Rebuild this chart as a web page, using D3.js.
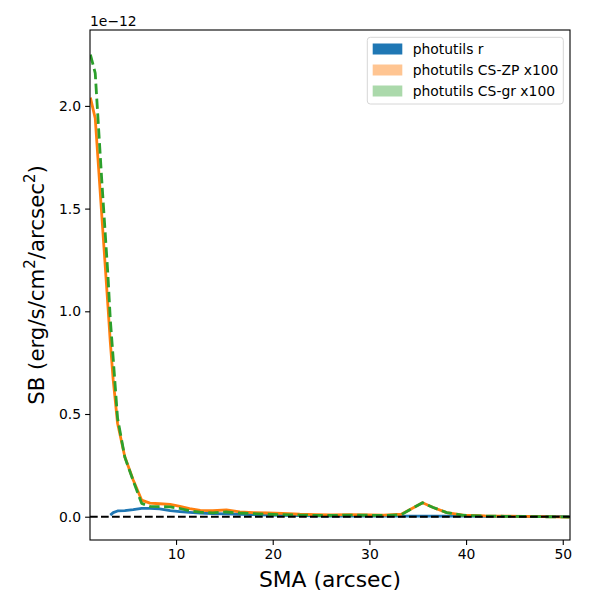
<!DOCTYPE html>
<html>
<head>
<meta charset="utf-8">
<script src="https://cdn.jsdelivr.net/npm/d3@7"></script>
<style>
  body { margin: 0; background: #fff; }
  text { font-family: "DejaVu Sans", sans-serif; }
</style>
</head>
<body>
<div id="chart"></div>
<script>
// surface brightness profiles, values in units of 1e-12 erg/s/cm2/arcsec2
var sma = [1.14, 1.64, 2.3, 2.95, 3.2, 3.5, 3.95, 4.7, 5.57, 6.44, 7.3, 8.3, 9.4, 10.4,
           11.4, 12.5, 13.8, 15.2, 16.6, 18, 19.5, 21, 22.8, 24.5, 26, 28, 30, 31.5,
           33.3, 34.4, 35.5, 36.6, 38, 39.7, 42, 44, 46, 48, 50.7];
var sbR = [null, null, null, null, 0.008, 0.02, 0.028, 0.030, 0.035, 0.041, 0.041, 0.038, 0.030, 0.025,
           0.021, 0.017, 0.015, 0.014, 0.012, 0.010, 0.008, 0.006, 0.005, 0.004, 0.003, 0.003, 0.003, 0.003,
           0.003, 0.003, 0.003, 0.003, 0.003, 0.003, 0.002, 0.002, 0.001, 0.001, 0.0];
var sbZP = [2.04, 1.94, 1.48, 1.03, 0.85, 0.666, 0.455, 0.292, 0.179, 0.081, 0.066, 0.063, 0.060, 0.050,
            0.039, 0.031, 0.029, 0.033, 0.024, 0.020, 0.018, 0.016, 0.012, 0.010, 0.009, 0.010, 0.009, 0.008,
            0.012, 0.040, 0.068, 0.045, 0.020, 0.008, 0.004, 0.003, 0.002, 0.0, -0.002];
var sbGR = [2.25, 2.16, 1.65, 1.18, 0.96, 0.77, 0.48, 0.29, 0.175, 0.065, 0.050, 0.049, 0.048, 0.040,
            0.029, 0.022, 0.019, 0.023, 0.018, 0.015, 0.012, 0.010, 0.008, 0.006, 0.006, 0.008, 0.007, 0.006,
            0.010, 0.040, 0.068, 0.045, 0.020, 0.007, 0.003, 0.002, 0.001, 0.0, -0.002];
var xTicks = [10, 20, 30, 40, 50];
var yTicks = [0.0, 0.5, 1.0, 1.5, 2.0];
var legendLabels = ["photutils r", "photutils CS-ZP x100", "photutils CS-gr x100"];

var W = 600, H = 600;
var margin = {top: 30, right: 30, bottom: 60, left: 90};

var svg = d3.select("#chart").append("svg")
    .attr("width", W)
    .attr("height", H);

var x = d3.scaleLinear()
    .domain([1.1, 50.75])
    .range([margin.left, W - margin.right]);
var y = d3.scaleLinear()
    .domain([-0.1134, 2.3695])
    .range([H - margin.bottom, margin.top]);

// clip to axes area
svg.append("clipPath").attr("id", "clip")
  .append("rect")
    .attr("x", margin.left).attr("y", margin.top)
    .attr("width", W - margin.left - margin.right)
    .attr("height", H - margin.top - margin.bottom);

var plot = svg.append("g").attr("clip-path", "url(#clip)");

function drawLine(vals, color, dash) {
    var line = d3.line()
        .defined(function(d) { return d[1] != null; })
        .x(function(d) { return x(d[0]); })
        .y(function(d) { return y(d[1]); });
    plot.append("path")
        .datum(sma.map(function(s, i) { return [s, vals[i]]; }))
        .attr("d", line)
        .attr("fill", "none")
        .attr("stroke", color)
        .attr("stroke-width", 2.8)
        .attr("stroke-linejoin", "round")
        .attr("stroke-dasharray", dash);
}

drawLine(sbR, "#1f77b4", null);
drawLine(sbZP, "#ff7f0e", null);
drawLine(sbGR, "#2ca02c", "10.4,4.5");

// zero line
plot.append("line")
    .attr("x1", margin.left).attr("x2", W - margin.right)
    .attr("y1", y(0)).attr("y2", y(0))
    .attr("stroke", "#000")
    .attr("stroke-width", 2)
    .attr("stroke-dasharray", "7.7,3.3");

// axes
svg.append("g")
    .attr("transform", "translate(0," + (H - margin.bottom) + ")")
    .call(d3.axisBottom(x).tickValues(xTicks).tickSize(4.9).tickPadding(4).tickFormat(d3.format("d")))
    .call(function(g) { g.select(".domain").remove(); })
    .selectAll("text").attr("font-size", "13.9px").attr("fill", "#000")
    .attr("font-family", "DejaVu Sans");

svg.append("g")
    .attr("transform", "translate(" + margin.left + ",0)")
    .call(d3.axisLeft(y).tickValues(yTicks).tickSize(4.9).tickPadding(4).tickFormat(d3.format(".1f")))
    .call(function(g) { g.select(".domain").remove(); })
    .selectAll("text").attr("font-size", "13.9px").attr("fill", "#000")
    .attr("font-family", "DejaVu Sans");

svg.selectAll(".tick line").attr("stroke", "#000").attr("stroke-width", 1.1);

// frame
svg.append("rect")
    .attr("x", margin.left).attr("y", margin.top)
    .attr("width", W - margin.left - margin.right)
    .attr("height", H - margin.top - margin.bottom)
    .attr("fill", "none")
    .attr("stroke", "#000")
    .attr("stroke-width", 1.1);

// offset text
svg.append("text")
    .attr("x", margin.left).attr("y", 26)
    .attr("font-size", "13.9px")
    .text("1e\u221212");

// axis labels
svg.append("text")
    .attr("x", (margin.left + W - margin.right) / 2)
    .attr("y", 587)
    .attr("text-anchor", "middle")
    .attr("font-size", "21.8px")
    .text("SMA (arcsec)");

var yl = svg.append("text")
    .attr("transform", "translate(43.5," + ((margin.top + H - margin.bottom) / 2) + ") rotate(-90)")
    .attr("text-anchor", "middle")
    .attr("font-size", "21.3px");
yl.append("tspan").text("SB (erg/s/cm");
yl.append("tspan").attr("dy", -9).attr("font-size", "15px").text("2");
yl.append("tspan").attr("dy", 9).text("/arcsec");
yl.append("tspan").attr("dy", -9).attr("font-size", "15px").text("2");
yl.append("tspan").attr("dy", 9).text(")");

// legend
var legendColors = ["#1f77b4", "rgba(255,127,14,0.45)", "rgba(44,160,44,0.4)"];
var lg = svg.append("g");
lg.append("rect")
    .attr("x", 367.3).attr("y", 37.3)
    .attr("width", 196).attr("height", 66.7)
    .attr("rx", 3)
    .attr("fill", "rgba(255,255,255,0.8)")
    .attr("stroke", "#d6d6d6")
    .attr("stroke-width", 1);
legendLabels.forEach(function(lab, i) {
    var cy = 49 + i * 21;
    lg.append("rect")
        .attr("x", 372.7).attr("y", cy - 5.5)
        .attr("width", 29.6).attr("height", 11)
        .attr("fill", legendColors[i]);
    lg.append("text")
        .attr("x", 412.7).attr("y", cy + 5)
        .attr("font-size", "13.9px")
        .text(lab);
});
</script>
</body>
</html>
